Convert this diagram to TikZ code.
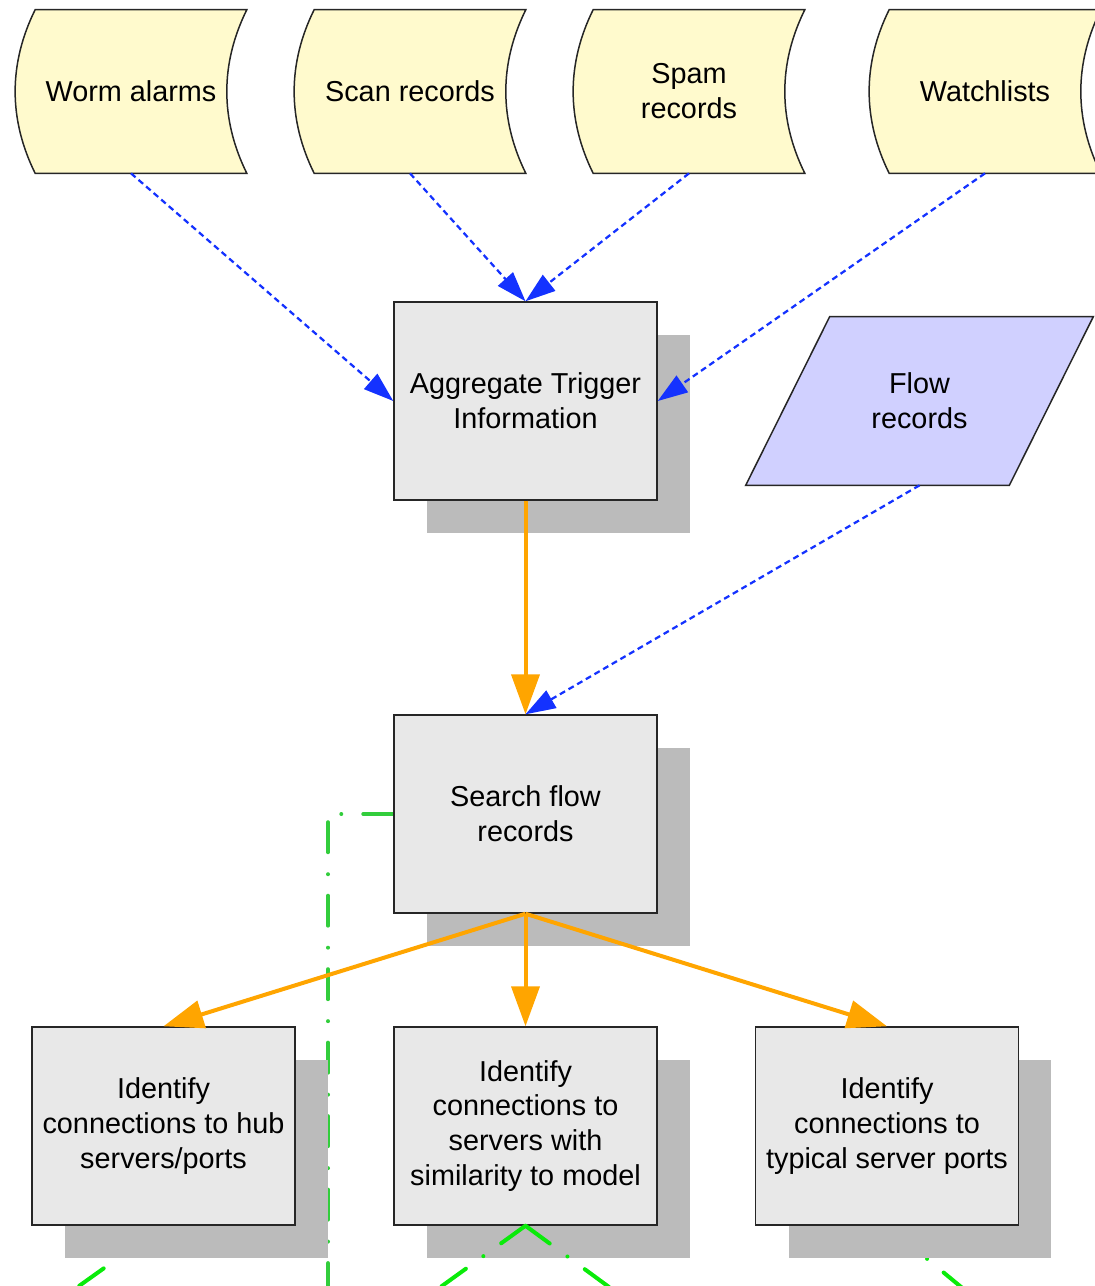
\documentclass[tikz,border=0pt]{standalone}
\usepackage{fontspec}
\setmainfont{Liberation Sans}
\usetikzlibrary{positioning,arrows.meta,calc,shadows,backgrounds}
\definecolor{datayellow}{RGB}{255,250,205}
\definecolor{flowblue}{RGB}{208,208,255}
\definecolor{boxgray}{RGB}{232,232,232}
\definecolor{shadowgray}{RGB}{187,187,187}
\definecolor{trigblue}{RGB}{20,50,255}
\definecolor{pipeorange}{RGB}{255,165,0}
\definecolor{linkgreen}{RGB}{50,205,60}
\definecolor{brightgreen}{RGB}{10,235,10}
\tikzset{
  x=0.02cm,y=-0.02cm,
  txt/.style={font=\fontsize{16.4pt}{19.9pt}\selectfont,align=center,inner sep=0pt},
  datanode/.style={txt,minimum width=3.82cm,minimum height=3.26cm},
  dataoutline/.style={draw=black!85,line width=0.03cm,fill=datayellow},
  procbox/.style={txt,draw=black!85,line width=0.03cm,fill=boxgray,
    minimum width=5.26cm,minimum height=3.96cm,
    general shadow={fill=shadowgray,shadow xshift=0.66cm,shadow yshift=-0.66cm}},
  flownode/.style={txt,minimum width=5.26cm,minimum height=3.36cm},
  flowoutline/.style={draw=black!85,line width=0.03cm,fill=flowblue},
  trig/.style={trigblue,line width=0.045cm,dash pattern=on 0.12cm off 0.08cm,
    -{Triangle[length=0.6cm,width=0.4cm]}},
  pipe/.style={pipeorange,line width=0.08cm,-{Triangle[length=0.8cm,width=0.56cm]}},
  dashdot/.style={line width=0.08cm,line cap=round,
    dash pattern=on 0.6cm off 0.44cm on 0cm off 0.43cm},
}
\begin{document}
\begin{tikzpicture}
  \useasboundingbox (0,0) rectangle (1095,1286);
  \clip (0,0) rectangle (1095,1286);
  \node[datanode] (worm) at (131,91.5) {Worm alarms};
  \node[datanode] (scan) at (410,91.5) {Scan records};
  \node[datanode] (spam) at (689,91.5) {Spam\\records};
  \node[datanode] (watch) at (985,91.5) {Watchlists};
  \node[procbox] (agg) at (525.5,401) {Aggregate Trigger\\Information};
  \node[flownode] (flow) at (919.5,401) {Flow\\records};
  \node[procbox] (search) at (525.5,814) {Search flow\\records};
  \node[procbox] (hub) at (163.5,1126) {Identify\\connections to hub\\servers/ports};
  \node[procbox] (sim) at (525.5,1126) {Identify\\connections to\\servers with\\similarity to model};
  \node[procbox] (typ) at (887,1126) {Identify\\connections to\\typical server ports};
  \coordinate (down) at (328,1400);
  \coordinate (hubout) at (-15,1353);
  \coordinate (simleft) at (349,1353);
  \coordinate (simright) at (699,1353);
  \coordinate (typout) at (1041,1353);
  \begin{pgfonlayer}{background}
    \foreach \n in {worm,scan,spam,watch}
      \draw[dataoutline] (\n.north west) .. controls +(-26.7,54) and +(-26.7,-54) .. (\n.south west)
        -- ([xshift=0.4cm]\n.south east) .. controls +(-26.7,-54) and +(-26.7,54) .. ([xshift=0.4cm]\n.north east) -- cycle;
    \draw[flowoutline] ([xshift=0.84cm]flow.north west) -- ([xshift=0.84cm]flow.north east)
      -- ([xshift=-0.84cm]flow.south east) -- ([xshift=-0.84cm]flow.south west) -- cycle;
    \draw[dashdot,linkgreen] (search.west) -| (down);
    \draw[dashdot,brightgreen] (hub.south) -- (hubout);
    \draw[dashdot,brightgreen] (typ.south) -- (typout);
  \end{pgfonlayer}
  \draw[trig] (worm.south) -- (agg.west);
  \draw[trig] (scan.south) -- (agg.north);
  \draw[trig] (spam.south) -- (agg.north);
  \draw[trig] (watch.south) -- (agg.east);
  \draw[trig] (flow.south) -- (search.north);
  \draw[pipe] (agg) -- (search);
  \foreach \t in {hub,sim,typ}
    \draw[pipe] (search.south) -- (\t.north);
  \draw[dashdot,brightgreen] (sim.south) -- (simleft);
  \draw[dashdot,brightgreen] (sim.south) -- (simright);
\end{tikzpicture}
\end{document}
